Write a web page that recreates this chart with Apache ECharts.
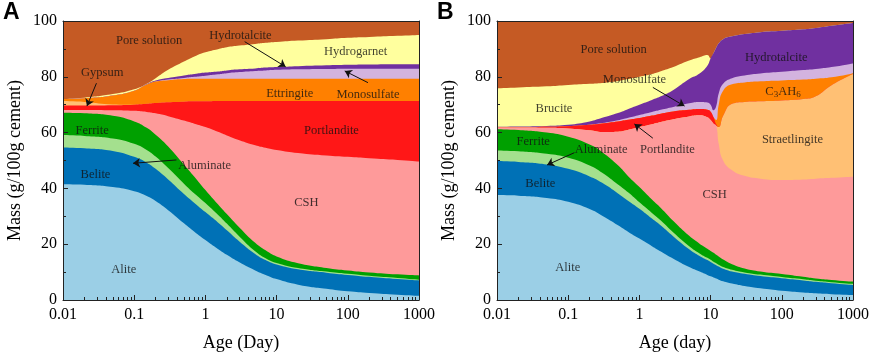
<!DOCTYPE html>
<html>
<head>
<meta charset="utf-8">
<script src="https://cdn.jsdelivr.net/npm/echarts@6/dist/echarts.min.js"></script>
<style>
  html, body { margin: 0; padding: 0; background: #fff; }
  #chart { width: 872px; height: 354px; }
</style>
</head>
<body>
<div id="chart"></div>
<script>
// x tick labels (log axis, days)
const xTickLabels = ['0.01', '0.1', '1', '10', '100', '1000']

// ---- Panel A: top boundary of each layer (cumulative, g/100g cement)
const agesA = [0.01, 0.02, 0.05, 0.1, 0.15, 0.2, 0.3, 0.5, 0.7, 1, 1.5, 2, 3, 5, 7, 10, 20, 50, 100, 200, 500, 1000]
const aPore = [100, 100, 100, 100, 100, 100, 100, 100, 100, 100, 100, 100, 100, 100, 100, 100, 100, 100, 100, 100, 100, 100]
const aHydrogarnet = [72.0, 72.5, 73.8, 75.5, 77.5, 79.5, 82.5, 85.5, 87.3, 88.8, 89.9, 90.6, 91.2, 91.8, 92.2, 92.5, 93.0, 93.5, 94.0, 94.3, 94.7, 95.0]
const aHydrotalcite = [72.0, 72.3, 73.3, 75.0, 77.4, 78.7, 79.6, 80.5, 81.0, 81.5, 81.9, 82.3, 82.7, 83.0, 83.3, 83.5, 83.8, 84.1, 84.3, 84.4, 84.5, 84.5]
const aMonosulfate = [72.0, 72.3, 73.3, 75.0, 77.2, 78.3, 79.0, 79.6, 80.0, 80.4, 80.9, 81.3, 81.7, 82.1, 82.3, 82.5, 82.7, 82.8, 82.9, 82.9, 82.9, 82.9]
const aEttringite = [72.0, 72.3, 73.3, 75.0, 77.2, 78.3, 78.8, 79.2, 79.3, 79.3, 79.3, 79.3, 79.3, 79.3, 79.3, 79.3, 79.3, 79.3, 79.3, 79.3, 79.3, 79.3]
const aGypsum = [71.3, 71.0, 70.1, 70.0, 70.3, 70.6, 70.9, 71.1, 71.2, 71.2, 71.3, 71.3, 71.3, 71.3, 71.3, 71.3, 71.3, 71.3, 71.3, 71.3, 71.3, 71.3]
const aPortlandite = [69.7, 69.7, 69.8, 70.0, 70.3, 70.6, 70.9, 71.1, 71.2, 71.2, 71.3, 71.3, 71.3, 71.3, 71.3, 71.3, 71.3, 71.3, 71.3, 71.3, 71.3, 71.3]
const aCSH = [68.1, 68.1, 68.0, 67.8, 67.4, 66.9, 65.9, 64.3, 63.2, 62.0, 60.3, 59.0, 57.3, 55.5, 54.6, 53.8, 52.7, 51.8, 51.3, 50.8, 50.2, 49.6]
const aFerrite = [67.1, 66.9, 66.0, 64.0, 61.7, 59.2, 55.0, 48.5, 44.2, 39.4, 34.3, 30.8, 26.0, 20.5, 17.8, 15.6, 13.2, 11.5, 10.6, 9.9, 9.2, 8.8]
const aAluminate = [59.1, 58.8, 57.9, 56.0, 53.8, 51.4, 47.3, 41.7, 38.2, 34.8, 30.6, 27.4, 22.8, 17.5, 15.0, 13.3, 11.5, 10.2, 9.4, 8.7, 7.9, 7.3]
const aBelite = [54.7, 54.4, 53.4, 51.3, 49.2, 47.0, 43.2, 38.0, 34.8, 31.5, 27.8, 25.0, 21.0, 16.5, 14.3, 12.7, 11.0, 9.8, 9.0, 8.3, 7.5, 7.0]
const aAlite = [41.5, 41.3, 40.5, 39.0, 37.3, 35.5, 32.2, 27.5, 24.5, 21.5, 18.3, 16.2, 13.5, 10.6, 9.0, 7.5, 5.5, 4.0, 3.1, 2.5, 1.9, 1.5]

// ---- Panel B
const agesB = [0.01, 0.02, 0.05, 0.1, 0.2, 0.3, 0.5, 0.7, 1, 1.5, 2, 3, 5, 7, 9, 10, 11, 12, 13, 15, 20, 30, 50, 100, 200, 300, 500, 1000]
const bPore = [100, 100, 100, 100, 100, 100, 100, 100, 100, 100, 100, 100, 100, 100, 100, 100, 100, 100, 100, 100, 100, 100, 100, 100, 100, 100, 100, 100]
const bBrucite = [75.9, 76.2, 76.6, 77.1, 77.5, 77.8, 78.5, 79.2, 80.0, 81.0, 82.0, 83.5, 85.8, 87.0, 87.8, 86.6, 88.5, 90.5, 92.0, 93.5, 94.5, 95.3, 96.0, 96.5, 97.0, 97.5, 98.3, 99.3]
const bHydrotalcite = [62.1, 62.2, 62.4, 62.8, 64.0, 65.3, 67.0, 68.5, 70.0, 71.7, 73.0, 75.3, 79.2, 81.2, 84.0, 86.6, 88.5, 90.5, 92.0, 93.5, 94.5, 95.3, 96.0, 96.5, 97.0, 97.5, 98.3, 99.3]
const bMonosulfate = [62.0, 62.0, 62.1, 62.3, 62.8, 63.4, 64.4, 65.3, 66.3, 67.4, 68.2, 69.2, 70.5, 71.0, 70.8, 70.0, 68.0, 69.5, 74.0, 77.5, 79.5, 80.5, 81.2, 81.8, 82.4, 82.8, 83.5, 84.8]
const bC3AH6 = [62.0, 62.0, 62.1, 62.3, 62.8, 63.3, 64.0, 64.6, 65.2, 66.1, 66.8, 67.6, 68.2, 68.5, 68.2, 67.5, 65.5, 64.5, 70.0, 75.0, 77.3, 78.0, 78.4, 78.7, 79.0, 79.3, 79.8, 81.3]
const bPortlandite = [62.0, 62.0, 62.1, 62.3, 62.8, 63.3, 64.0, 64.6, 65.2, 66.1, 66.8, 67.6, 68.2, 68.5, 68.2, 67.5, 65.5, 63.0, 62.0, 66.0, 70.3, 71.0, 71.2, 71.5, 72.0, 73.0, 77.0, 81.0]
const bStraetlingite = [61.8, 61.8, 61.7, 61.5, 60.8, 60.2, 60.3, 61.0, 62.0, 63.0, 63.8, 64.8, 65.8, 66.2, 65.5, 64.5, 63.2, 62.5, 62.0, 66.0, 70.3, 71.0, 71.2, 71.5, 72.0, 73.0, 77.0, 81.0]
const bCSH = [61.8, 61.8, 61.7, 61.5, 60.8, 60.2, 60.3, 61.0, 62.0, 63.0, 63.8, 64.8, 65.8, 66.2, 65.5, 64.5, 63.2, 62.5, 56.0, 50.0, 46.5, 44.5, 43.5, 43.0, 43.2, 43.5, 43.8, 44.2]
const bFerrite = [61.2, 60.9, 60.0, 58.5, 55.7, 53.0, 48.3, 44.3, 40.5, 36.0, 33.0, 28.3, 23.0, 20.2, 18.4, 17.6, 16.9, 16.2, 15.6, 14.5, 12.8, 11.3, 10.2, 9.3, 8.3, 7.7, 7.2, 6.6]
const bAluminate = [53.6, 53.3, 52.4, 51.0, 48.2, 45.6, 41.4, 38.5, 35.0, 31.2, 28.5, 24.2, 19.3, 16.7, 15.1, 14.4, 13.7, 13.2, 12.6, 11.8, 10.8, 9.9, 9.1, 8.2, 7.4, 6.9, 6.4, 5.8]
const bBelite = [49.8, 49.5, 48.6, 47.0, 44.3, 42.0, 38.2, 35.5, 32.7, 29.2, 26.7, 22.8, 18.2, 15.8, 14.3, 13.6, 13.0, 12.5, 12.0, 11.2, 10.2, 9.4, 8.6, 7.8, 7.0, 6.5, 6.0, 5.4]
const bAlite = [37.6, 37.4, 36.6, 35.2, 32.6, 30.2, 26.8, 24.4, 22.0, 19.3, 17.4, 14.8, 11.8, 10.2, 9.0, 8.5, 8.1, 7.7, 7.3, 6.7, 5.9, 5.0, 4.2, 3.3, 2.7, 2.4, 2.1, 1.8]

// text labels inside the plots [text, age, mass]
const labelsA = [
  ['Pore solution', 0.162, 92.9], ['Hydrotalcite', 3.1, 94.6], ['Hydrogarnet', 129, 89],
  ['Gypsum', 0.0356, 81.5], ['Ettringite', 15.3, 74.1], ['Monosulfate', 192, 73.7],
  ['Portlandite', 59, 60.6], ['Ferrite', 0.0257, 60.6], ['Aluminate', 0.977, 48],
  ['Belite', 0.0286, 44.8], ['CSH', 26.2, 34.9], ['Alite', 0.0713, 11]
]
const labelsB = [
  ['Pore solution', 0.434, 89.8], ['Brucite', 0.0632, 68.7], ['Monosulfate', 0.851, 78.9],
  ['Hydrotalcite', 83.5, 87], ['C3AH6', 104, 74.7], ['Ferrite', 0.0323, 56.7],
  ['Aluminate', 0.29, 54], ['Portlandite', 2.47, 54], ['Straetlingite', 141, 57.3],
  ['Belite', 0.0405, 41.8], ['CSH', 11.4, 37.6], ['Alite', 0.0986, 11.7]
]
// arrows [fromAge, fromMass, toAge, toMass]
const arrowsA = [
  [0.0295, 77.7, 0.0217, 69.5],
  [3.56, 92.6, 13.4, 83.6],
  [192, 77.9, 90.6, 82.1],
  [0.392, 50.2, 0.0962, 49]
]
const arrowsB = [
  [1.545, 76.2, 4.3, 69.5],
  [1.545, 58, 0.851, 63.1],
  [0.122, 52.8, 0.0505, 48.4]
]

// minor ticks for the log axis
const minorTicks = []
for (let d = -2; d < 3; d++) {
  for (let k = 2; k <= 9; k++) minorTicks.push(+(k * Math.pow(10, d)).toPrecision(3))
}

const serif = '"Liberation Serif", "Times New Roman", serif'

// layers drawn top-down, each filled to 0 and covered by the next one
const layersA = [
  [aPore, '#C55A24'], [aHydrogarnet, '#FFFF9E'], [aHydrotalcite, '#7030A0'],
  [aMonosulfate, '#D3B3DF'], [aEttringite, '#FF8000'], [aGypsum, '#FFC074'],
  [aPortlandite, '#FF1717'], [aCSH, '#FE9A9A'], [aFerrite, '#00A000'],
  [aAluminate, '#A4E08E'], [aBelite, '#0071B6'], [aAlite, '#9BCFE6']
]
const layersB = [
  [bPore, '#C55A24'], [bBrucite, '#FFFF9E'], [bHydrotalcite, '#7030A0'],
  [bMonosulfate, '#D3B3DF'], [bC3AH6, '#FF8000'], [bPortlandite, '#FF1717'],
  [bStraetlingite, '#FFC074'], [bCSH, '#FE9A9A'], [bFerrite, '#00A000'],
  [bAluminate, '#A4E08E'], [bBelite, '#0071B6'], [bAlite, '#9BCFE6']
]

function axesFor(g, xName) {
  const xs = [{
    type: 'log', gridIndex: g, min: 0.01, max: 1000, logBase: 10, position: 'bottom', z: 10,
    name: xName, nameLocation: 'middle', nameGap: 34,
    nameTextStyle: { fontFamily: serif, fontSize: 18, color: '#000' },
    axisLine: { show: true, lineStyle: { color: '#222', width: 1 } },
    axisTick: { show: true, inside: true, length: 5, lineStyle: { color: '#222' } },
    minorTick: { show: false },
    axisLabel: {
      fontFamily: serif, fontSize: 16, color: '#000', margin: 7,
      formatter: (v, i) => xTickLabels[i]
    },
    splitLine: { show: false }
  }, {
    type: 'log', gridIndex: g, min: 0.01, max: 1000, logBase: 10, position: 'bottom', z: 10,
    axisLine: { show: false },
    axisTick: { show: true, inside: true, length: 3, customValues: minorTicks, lineStyle: { color: '#222' } },
    axisLabel: { show: false },
    splitLine: { show: false }
  }, {
    type: 'log', gridIndex: g, min: 0.01, max: 1000, logBase: 10, position: 'top', z: 10,
    axisLine: { show: true, lineStyle: { color: '#222', width: 1 } },
    axisTick: { show: false }, axisLabel: { show: false }, splitLine: { show: false }
  }]
  const ys = [{
    type: 'value', gridIndex: g, min: 0, max: 100, interval: 20, position: 'left', z: 10,
    name: 'Mass (g/100g cement)', nameLocation: 'middle', nameGap: 39,
    nameTextStyle: { fontFamily: serif, fontSize: 18, color: '#000' },
    axisLine: { show: true, lineStyle: { color: '#222', width: 1 } },
    axisTick: { show: true, inside: true, length: 5, lineStyle: { color: '#222' } },
    minorTick: { show: true, splitNumber: 2, length: 3, lineStyle: { color: '#222' } },
    axisLabel: { fontFamily: serif, fontSize: 16, color: '#000', margin: 6 },
    splitLine: { show: false }
  }, {
    type: 'value', gridIndex: g, min: 0, max: 100, position: 'right', z: 10,
    axisLine: { show: true, lineStyle: { color: '#222', width: 1 } },
    axisTick: { show: false }, axisLabel: { show: false }, splitLine: { show: false }
  }]
  return { xs, ys }
}

function panelSeries(ages, layers, labels, arrows, xi, yi) {
  const out = layers.map(([vals, color]) => ({
    type: 'line', xAxisIndex: xi, yAxisIndex: yi,
    data: ages.map((a, i) => [a, vals[i]]),
    showSymbol: false, smooth: 0.5, silent: true,
    lineStyle: { width: 0 },
    areaStyle: { color: color, opacity: 1 }
  }))
  out.push({
    type: 'scatter', xAxisIndex: xi, yAxisIndex: yi, symbolSize: 0, silent: true, z: 20,
    data: labels.map(l => ({ name: l[0], value: [l[1], l[2]] })),
    label: {
      show: true, position: 'inside', color: '#111', fontFamily: serif, fontSize: 12.5,
      formatter: p => p.name === 'C3AH6' ? '{n|C}{s|3}{n|AH}{s|6}' : p.name,
      rich: {
        n: { fontFamily: serif, fontSize: 12.5, color: '#111' },
        s: { fontFamily: serif, fontSize: 9, color: '#111', padding: [6, 0, 0, 0] }
      }
    },
    markLine: {
      silent: true, symbol: ['none', 'arrow'], symbolSize: 7, animation: false,
      lineStyle: { color: '#111', width: 1, type: 'solid' },
      label: { show: false },
      data: arrows.map(r => [{ coord: [r[0], r[1]] }, { coord: [r[2], r[3]] }])
    }
  })
  return out
}

const axA = axesFor(0, 'Age (Day)')
const axB = axesFor(1, 'Age (day)')

const chart = echarts.init(document.getElementById('chart'), null, { renderer: 'canvas' })
chart.setOption({
  animation: false,
  backgroundColor: '#fff',
  grid: [
    { left: 63, top: 21, width: 356, height: 279, outerBoundsMode: 'none' },
    { left: 497, top: 21, width: 356, height: 279, outerBoundsMode: 'none' }
  ],
  xAxis: axA.xs.concat(axB.xs),
  yAxis: axA.ys.concat(axB.ys),
  graphic: [
    { type: 'text', left: 3, top: 1, style: { text: 'A', font: 'bold 23px "Liberation Sans", Arial', fill: '#000' } },
    { type: 'text', left: 437, top: 1, style: { text: 'B', font: 'bold 23px "Liberation Sans", Arial', fill: '#000' } }
  ],
  series: panelSeries(agesA, layersA, labelsA, arrowsA, 0, 0)
    .concat(panelSeries(agesB, layersB, labelsB, arrowsB, 3, 2))
})
</script>
</body>
</html>
